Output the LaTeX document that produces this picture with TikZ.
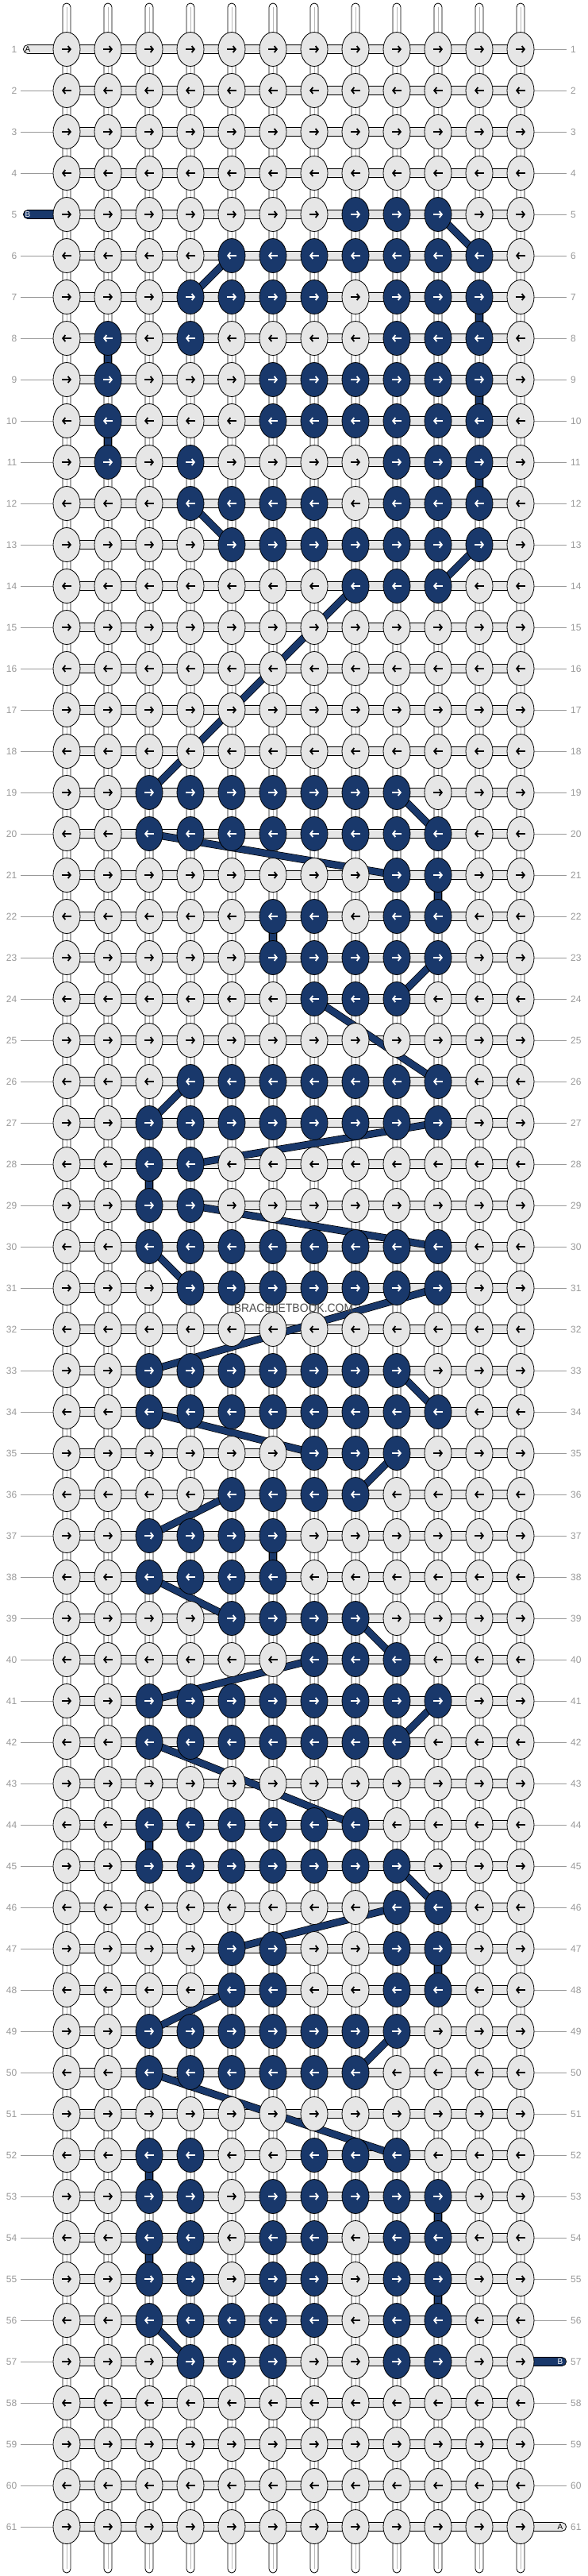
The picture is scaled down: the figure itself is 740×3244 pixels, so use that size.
\documentclass[tikz,border=0pt]{standalone}
\usepackage{fontspec}
\setmainfont{Liberation Sans}
\usetikzlibrary{arrows.meta,shapes.geometric}
\definecolor{kgray}{HTML}{E6E6E6}
\definecolor{bblue}{HTML}{19386B}
\definecolor{lgray}{HTML}{999999}
\definecolor{wmark}{HTML}{4E4E4E}
\pgfdeclarelayer{bg}
\pgfdeclarelayer{mid}
\pgfsetlayers{bg,mid,main}
\tikzset{
  gknot/.style={ellipse, draw=black, line width=0.8pt, fill=kgray, minimum width=34pt, minimum height=43pt, inner sep=0pt},
  bknot/.style={gknot, fill=bblue},
  knotarrow/.style={line width=1.8pt, -{Straight Barb[length=3.2pt,width=8pt]}},
  bline/.style={draw=black, line width=0.7pt, double=bblue, double distance=8pt},
  vstrand/.style={draw=black, line width=0.8pt, fill=white, rounded corners=5pt},
  hband/.style={draw=black, line width=0.8pt, fill=kgray},
  rowlab/.style={text=lgray, font=\fontsize{12}{12}\selectfont, inner sep=0pt},
  labline/.style={draw=lgray, line width=0.8pt},
  tagA/.style={draw=black, line width=0.8pt, fill=kgray, rounded corners=5.5pt, minimum height=11pt, inner sep=0pt},
  tagB/.style={tagA, fill=bblue},
  tagletter/.style={font=\fontsize{10}{10}\selectfont, inner sep=0pt},
}
\begin{document}
\begin{tikzpicture}[x=1pt,y=-1pt]
\useasboundingbox (0,0) rectangle (740,3244);
% blue knot table
\foreach \r/\cs in {
5/{8,9,10},
6/{5,6,7,8,9,10,11},
7/{4,5,6,7,9,10,11},
8/{2,4,9,10,11},
9/{2,6,7,8,9,10,11},
10/{2,6,7,8,9,10,11},
11/{2,4,9,10,11},
12/{4,5,6,7,9,10,11},
13/{5,6,7,8,9,10,11},
14/{8,9,10},
19/{3,4,5,6,7,8,9},
20/{3,4,5,6,7,8,9,10},
21/{9,10},
22/{6,7,9,10},
23/{6,7,8,9,10},
24/{7,8,9},
26/{4,5,6,7,8,9,10},
27/{3,4,5,6,7,8,9,10},
28/{3,4},
29/{3,4},
30/{3,4,5,6,7,8,9,10},
31/{4,5,6,7,8,9,10},
33/{3,4,5,6,7,8,9},
34/{3,4,5,6,7,8,9,10},
35/{7,8,9},
36/{5,6,7,8},
37/{3,4,5,6},
38/{3,4,5,6},
39/{5,6,7,8},
40/{7,8,9},
41/{3,4,5,6,7,8,9,10},
42/{3,4,5,6,7,8,9},
44/{3,4,5,6,7,8},
45/{3,4,5,6,7,8,9},
46/{9,10},
47/{5,6,9,10},
48/{5,6,9,10},
49/{3,4,5,6,7,8,9},
50/{3,4,5,6,7,8},
52/{3,4,7,8,9},
53/{3,4,6,7,8,9,10},
54/{3,4,6,7,9,10},
55/{3,4,6,7,9,10},
56/{3,4,5,6,7,9,10},
57/{4,5,6,9,10}}{
  \foreach \c in \cs {\expandafter\xdef\csname isb-\r-\c\endcsname{1}}
}
\begin{pgfonlayer}{bg}
\fill[white] (0,0) rectangle (740,3244);
\foreach \c in {1,...,12}{
  \pgfmathsetmacro{\xx}{84+52*(\c-1)}
  \draw[vstrand] (\xx-5,4) rectangle (\xx+5,3240);
  \draw[lgray!70, line width=0.7pt] (\xx,9) -- (\xx,3235);
}
\foreach \r in {1,...,61}{
  \pgfmathsetmacro{\yy}{62+52*(\r-1)}
  \draw[hband] (84,\yy-5.5) rectangle (656,\yy+5.5);
}
\node[tagA, minimum width=61pt, anchor=west] (tagA1) at (29,62) {};
\node[tagB, minimum width=61pt, anchor=west] (tagB1) at (29,270) {};
\node[tagB, minimum width=64pt, anchor=east] (tagB2) at (714,2974) {};
\node[tagA, minimum width=64pt, anchor=east] (tagA2) at (714,3182) {};
\end{pgfonlayer}
\node[tagletter, text=black] (tagA1t) at (35,62) {A};
\node[tagletter, text=white] (tagB1t) at (35,270) {B};
\node[tagletter, text=white] (tagB2t) at (706,2974) {B};
\node[tagletter, text=black] (tagA2t) at (706,3182) {A};
% knots
\foreach \r in {1,...,61}{
 \foreach \c in {1,...,12}{
  \pgfmathsetmacro{\xx}{84+52*(\c-1)}
  \pgfmathsetmacro{\yy}{62+52*(\r-1)}
  \ifcsname isb-\r-\c\endcsname
    \node[bknot] (k-\r-\c) at (\xx,\yy) {};
    \def\acol{white}
  \else
    \node[gknot] (k-\r-\c) at (\xx,\yy) {};
    \def\acol{black}
  \fi
  \ifodd\r\relax
    \draw[knotarrow, draw=\acol] (\xx-6,\yy) -- (\xx+6,\yy);
  \else
    \draw[knotarrow, draw=\acol] (\xx+6,\yy) -- (\xx-6,\yy);
  \fi
 }
}
% row labels
\foreach \r in {1,...,61}{
  \pgfmathsetmacro{\yy}{62+52*(\r-1)}
  \node[rowlab, anchor=east] (ll-\r) at (21.5,\yy) {\r};
  \node[rowlab, anchor=west] (lr-\r) at (719,\yy) {\r};
  \begin{pgfonlayer}{bg}
  \ifnum\r=1 \else\ifnum\r=5 \else
    \draw[labline, shorten <=4.5pt] (ll-\r.east) -- (k-\r-1.west);
  \fi\fi
  \ifnum\r=57 \else\ifnum\r=61 \else
    \draw[labline, shorten >=5pt] (k-\r-12.east) -- (lr-\r.west);
  \fi\fi
  \end{pgfonlayer}
}
% thread path of B
\begin{pgfonlayer}{mid}
\foreach \a/\b in {5-10/6-11, 6-5/7-4, 7-11/8-11, 8-2/9-2, 9-11/10-11, 10-2/11-2, 11-11/12-11, 12-4/13-5, 13-11/14-10, 14-8/19-3, 19-9/20-10, 20-3/21-9, 21-10/22-10, 22-6/23-6, 23-10/24-9, 24-7/26-10, 26-4/27-3, 27-10/28-4, 28-3/29-3, 29-4/30-10, 30-3/31-4, 31-10/33-3, 33-9/34-10, 34-3/35-7, 35-9/36-8, 36-5/37-3, 37-6/38-6, 38-3/39-5, 39-8/40-9, 40-7/41-3, 41-10/42-9, 42-3/44-8, 44-3/45-3, 45-9/46-10, 46-9/47-5, 47-10/48-10, 48-5/49-3, 49-9/50-8, 50-3/52-9, 52-3/53-3, 53-10/54-10, 54-3/55-3, 55-10/56-10, 56-3/57-4}{
  \draw[bline] (k-\a.center) -- (k-\b.center);
}
\end{pgfonlayer}
\node[text=wmark, font=\fontsize{15}{15}\selectfont, inner sep=0pt] (wm) at (370,1647) {\scalebox{0.93}[1]{BRACELETBOOK.COM}};
\end{tikzpicture}
\end{document}
